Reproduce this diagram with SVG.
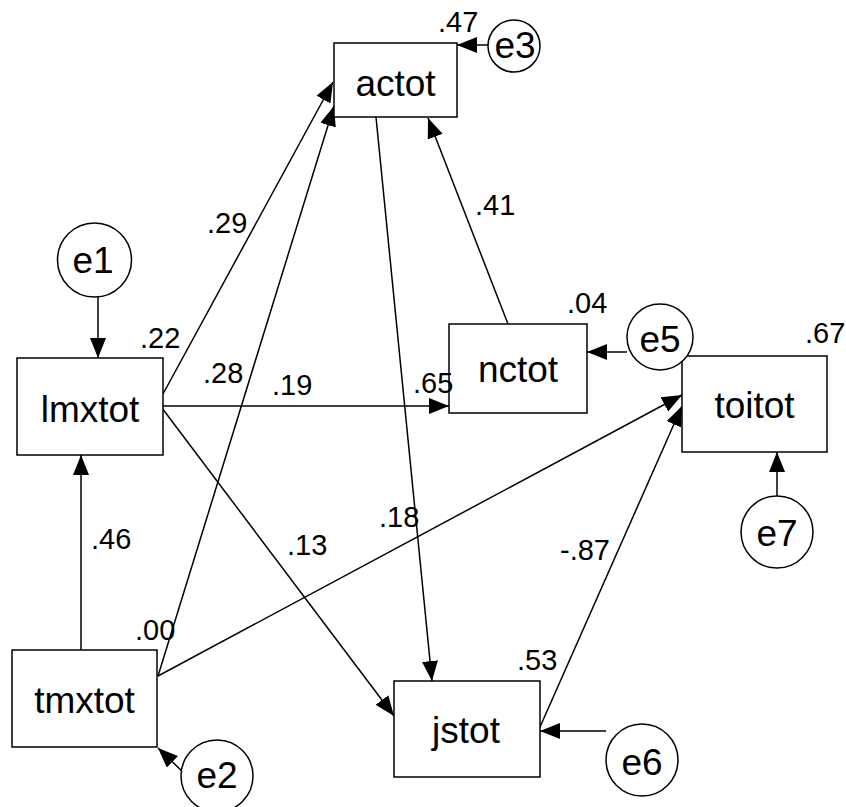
<svg xmlns="http://www.w3.org/2000/svg" width="846" height="807" viewBox="0 0 846 807">
<style>
.box{fill:#fff;stroke:#000;stroke-width:1.5}
.err{fill:#fff;stroke:#000;stroke-width:1.5}
.nt{font-family:"Liberation Sans",Arial,sans-serif;font-size:37px;text-anchor:middle;fill:#000}
.et{font-family:"Liberation Sans",Arial,sans-serif;font-size:37px;text-anchor:middle;fill:#000}
.lb{font-family:"Liberation Sans",Arial,sans-serif;font-size:29px;fill:#000}
.cn{fill:none;stroke:#000;stroke-width:1.5;marker-end:url(#ah)}
</style>
<defs>
<marker id="ah" markerUnits="userSpaceOnUse" markerWidth="22" markerHeight="18" refX="20" refY="8" orient="auto">
<path d="M0,0 L20,8 L0,16 z" fill="#000"/>
</marker>
</defs>
<rect width="846" height="807" fill="#fff"/>
<g id="connectors">
<line class="cn" x1="163" y1="394" x2="333" y2="82"/>
<line class="cn" x1="158" y1="676" x2="334" y2="106"/>
<line class="cn" x1="508" y1="324" x2="428" y2="118"/>
<line class="cn" x1="163" y1="406" x2="449" y2="406"/>
<line class="cn" x1="376" y1="117" x2="432" y2="681"/>
<line class="cn" x1="162" y1="408" x2="394" y2="716"/>
<line class="cn" x1="158" y1="676" x2="682" y2="395"/>
<line class="cn" x1="540" y1="727" x2="682" y2="406"/>
<line class="cn" x1="81" y1="650" x2="81" y2="455"/>
<line class="cn" x1="98" y1="297" x2="98" y2="358"/>
<line class="cn" x1="488" y1="45" x2="457" y2="45"/>
<line class="cn" x1="627" y1="352" x2="587" y2="352"/>
<line class="cn" x1="606" y1="731" x2="540" y2="731"/>
<line class="cn" x1="777" y1="496" x2="777" y2="452"/>
<line class="cn" x1="185" y1="774" x2="158" y2="748"/>
</g>
<g id="actot"><rect class="box" x="334" y="43" width="123" height="74"/><text class="nt" x="395.5" y="96">actot</text></g>
<g id="lmxtot"><rect class="box" x="17" y="358" width="146" height="97"/><text class="nt" x="90" y="422">lmxtot</text></g>
<g id="nctot"><rect class="box" x="449" y="324" width="138" height="89"/><text class="nt" x="518" y="382">nctot</text></g>
<g id="toitot"><rect class="box" x="682" y="356" width="145" height="96"/><text class="nt" x="754.5" y="418">toitot</text></g>
<g id="tmxtot"><rect class="box" x="12" y="650" width="145" height="97"/><text class="nt" x="84.5" y="713">tmxtot</text></g>
<g id="jstot"><rect class="box" x="394" y="681" width="146" height="96"/><text class="nt" x="466" y="743">jstot</text></g>
<g id="e1"><circle class="err" cx="94.5" cy="260" r="37"/><text class="et" x="93" y="273">e1</text></g>
<g id="e2"><circle class="err" cx="217" cy="776" r="36"/><text class="et" x="217" y="788">e2</text></g>
<g id="e3"><circle class="err" cx="514" cy="46" r="26"/><text class="et" x="515" y="58">e3</text></g>
<g id="e5"><circle class="err" cx="660" cy="337" r="33"/><text class="et" x="660" y="352">e5</text></g>
<g id="e6"><circle class="err" cx="642" cy="760" r="36"/><text class="et" x="642" y="775">e6</text></g>
<g id="e7"><circle class="err" cx="777" cy="532" r="36"/><text class="et" x="777" y="546">e7</text></g>
<g id="labels">
<text class="lb" x="438" y="32">.47</text>
<text class="lb" x="140" y="348">.22</text>
<text class="lb" x="207" y="233">.29</text>
<text class="lb" x="203" y="383">.28</text>
<text class="lb" x="272" y="395">.19</text>
<text class="lb" x="413" y="393">.65</text>
<text class="lb" x="475" y="215">.41</text>
<text class="lb" x="567" y="313">.04</text>
<text class="lb" x="805" y="343">.67</text>
<text class="lb" x="91" y="549">.46</text>
<text class="lb" x="135" y="640">.00</text>
<text class="lb" x="287" y="555">.13</text>
<text class="lb" x="379" y="527">.18</text>
<text class="lb" x="560" y="560">-.87</text>
<text class="lb" x="517" y="670">.53</text>
</g>
</svg>
